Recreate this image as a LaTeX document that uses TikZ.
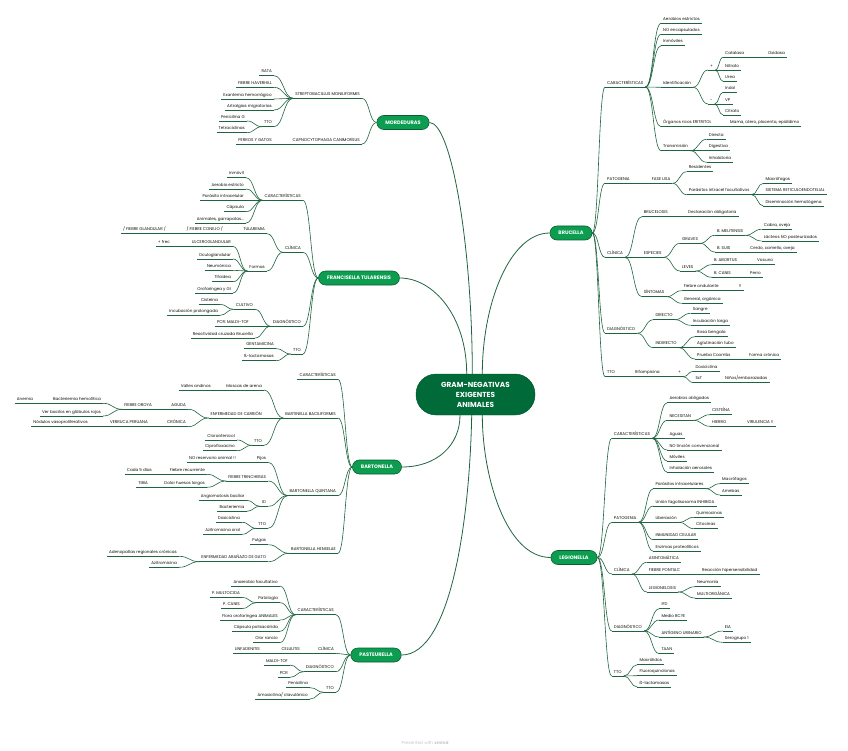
\documentclass[tikz,border=0pt]{standalone}
\usepackage{fontspec}
\setmainfont{Poppins}
\usetikzlibrary{calc}
\definecolor{lk}{HTML}{1F6440}
\definecolor{mg}{HTML}{0C9D50}
\definecolor{dg}{HTML}{0B5E33}
\definecolor{cg}{HTML}{006A38}
\definecolor{tx}{HTML}{0D0D0D}
\newcommand{\leaffont}{\fontsize{4.1}{5}\selectfont}
\newcommand{\brfont}{\fontsize{5}{6}\selectfont\bfseries}
\newcommand{\rootfont}{\fontsize{7.3}{10}\selectfont\bfseries}
\tikzset{
  ul/.style={draw=lk, line width=0.6pt},
  tp/.style={font=\leaffont, text=tx, inner xsep=2pt, inner ysep=1.5pt, text height=3.2pt, text depth=1.2pt,
    append after command={(\tikzlastnode.south west) edge[ul] (\tikzlastnode.south east)}},
  rt/.style={tp, anchor=south west},
  lt/.style={tp, anchor=south east},
  br/.style={draw=lk, line width=0.6pt, to path={let \p1=(\tikztostart), \p2=(\tikztotarget) in
    .. controls ({(\x1+\x2)/2},\y1) and ({(\x1+\x2)/2},\y2) .. (\tikztotarget)}},
  trunk/.style={draw=lk, line width=0.8pt},
  mn/.style={draw=dg, fill=mg, line width=0.6pt, rounded corners=7pt, text=white, font=\brfont,
    minimum height=14pt, inner xsep=8.5pt, inner ysep=0pt},
  root/.style={draw=cg!80!black, fill=cg, rounded corners=20pt, text=white, font=\rootfont,
    align=center, minimum width=119pt, minimum height=41pt}
}
\begin{document}
\begin{tikzpicture}[x=1pt,y=-1pt]
\useasboundingbox (0,0) rectangle (848,751);
\node[root] (root) at (475.5,394.5) {GRAM-NEGATIVAS\\EXIGENTES\\ANIMALES};
\node[mn] (mor) at (403,122.5) {MORDEDURAS};
\node[mn] (bru) at (571,233) {BRUCELLA};
\node[mn] (fra) at (359,278) {FRANCISELLA TULARENSIS};
\node[mn] (bar) at (377,467) {BARTONELLA};
\node[mn] (leg) at (574,557.5) {LEGIONELLA};
\node[mn] (pas) at (376,655) {PASTEURELLA};

\draw[trunk] (mor.east) .. controls +(22,0) and +(0,-127) .. ([xshift=-3.2pt]root.north);
\draw[trunk] (fra.east) .. controls +(34,0) and +(0,-57) .. ([xshift=-8.8pt]root.north);
\draw[trunk] ([xshift=6.8pt]root.north) .. controls +(0,-70) and +(-40,0) .. (bru.west);
\draw[trunk] ([xshift=-15.5pt]root.south) .. controls +(0,30) and +(35,0) .. (bar.east);
\draw[trunk] ([xshift=-3.8pt]root.south) .. controls +(-2,106) and +(49,0) .. (pas.east);
\draw[trunk] ([xshift=6.8pt]root.south) .. controls +(0,60) and +(-45,0) .. (leg.west);

% brucella
\node[rt] (b1) at (605,87) {CARACTERÍSTICAS};
\node[rt] (b11) at (661,23.3) {Aerobios estrictos};
\node[rt] (b12) at (661,34.3) {NO encapsulados};
\node[rt] (b13) at (661,45.7) {Inmóviles};
\node[rt] (b14) at (661,87.3) {Identificación};
\node[rt] (b141) at (708,70) {+};
\node[rt] (b1411) at (723,57.3) {Catalasa};
\node[rt] (b14111) at (766,57.3) {Oxidasa};
\node[rt] (b1412) at (723,70) {Nitrato};
\node[rt] (b1413) at (723,81.3) {Urea};
\node[rt] (b142) at (708,104) {-};
\node[rt] (b1421) at (723,92.3) {Indol};
\node[rt] (b1422) at (723,104) {VP};
\node[rt] (b1423) at (723,115) {Citrato};
\node[rt] (b15) at (661,126.7) {Órganos ricos ERITRITOL};
\node[rt] (b151) at (728,126.7) {Mama, útero, placenta, epidídimo};
\node[rt] (b16) at (661,150.7) {Transmisión};
\node[rt] (b161) at (706.7,139.3) {Directa};
\node[rt] (b162) at (706.7,150.7) {Digestiva};
\node[rt] (b163) at (706.7,162.3) {Inhalatoria};
\node[rt] (b2) at (605,183.3) {PATOGENIA};
\node[rt] (b21) at (649.7,183.3) {FASE LISA};
\node[rt] (b211) at (686.7,171.7) {Residentes};
\node[rt] (b212) at (686.7,194.7) {Parásitos intracel facultativos};
\node[rt] (b2121) at (763.3,183.3) {Macrófagos};
\node[rt] (b2122) at (763.3,194.7) {SISTEMA RETICULOENDOTELIAL};
\node[rt] (b2123) at (763.3,206) {Diseminación hematógena};
\node[rt] (b3) at (605,257.3) {CLÍNICA};
\node[rt] (b31) at (641.7,216.7) {BRUCELOSIS};
\node[rt] (b311) at (686,216.7) {Declaración obligatoria};
\node[rt] (b32) at (641.7,257.3) {ESPECIES};
\node[rt] (b321) at (680,243.3) {GRAVES};
\node[rt] (b3211) at (715,235.3) {B. MELITENSIS};
\node[rt] (b32111) at (761.7,229.3) {Cabra, oveja};
\node[rt] (b32112) at (761.7,241) {Lácteos NO pasteurizados};
\node[rt] (b3212) at (715,252) {B. SUIS};
\node[rt] (b32121) at (748,252) {Cerdo, camello, oveja};
\node[rt] (b322) at (680,271) {LEVES};
\node[rt] (b3221) at (712,264.7) {B. ABORTUS};
\node[rt] (b32211) at (755,264.7) {Vacuno};
\node[rt] (b3222) at (712,277.3) {B. CANIS};
\node[rt] (b32221) at (748,277.3) {Perro};
\node[rt] (b33) at (641.7,296.7) {SÍNTOMAS};
\node[rt] (b331) at (681.7,290.7) {Fiebre ondulante};
\node[rt] (b3311) at (736.7,290.7) {!!};
\node[rt] (b332) at (681.7,303.3) {General, orgánica};
\node[rt] (b4) at (605,333.3) {DIAGNÓSTICO};
\node[rt] (b41) at (653.3,319.7) {DIRECTO};
\node[rt] (b411) at (690.7,313.3) {Sangre};
\node[rt] (b412) at (690.7,325.3) {Incubación larga};
\node[rt] (b42) at (653.3,347.7) {INDIRECTO};
\node[rt] (b421) at (695,336.7) {Rosa bengala};
\node[rt] (b422) at (695,347.7) {Aglutinación tubo};
\node[rt] (b423) at (695,359) {Prueba Coombs};
\node[rt] (b4231) at (747,359) {Forma crónica};
\node[rt] (b5) at (605,376.7) {TTO};
\node[rt] (b51) at (633,376.7) {Rifampicina};
\node[rt] (b511) at (676,376.7) {+};
\node[rt] (b5111) at (693.3,371.3) {Doxiciclina};
\node[rt] (b5112) at (693.3,382.7) {SxT};
\node[rt] (b51121) at (723,382.7) {Niños/embarazadas};

% legionella
\node[rt] (l1) at (611.7,438.3) {CARACTERÍSTICAS};
\node[rt] (l11) at (667.3,402.7) {Aerobios obligados};
\node[rt] (l12) at (667.3,420.3) {NECESITAN};
\node[rt] (l121) at (710,414.7) {CISTEÍNA};
\node[rt] (l122) at (710,426.3) {HIERRO};
\node[rt] (l1221) at (745,426.3) {VIRULENCIA !!};
\node[rt] (l13) at (667.3,438.3) {Aguas};
\node[rt] (l14) at (667.3,450) {NO tinción convencional};
\node[rt] (l15) at (667.3,461) {Móviles};
\node[rt] (l16) at (667.3,472.3) {Inhalación aerosoles};
\node[rt] (l2) at (611.7,522.3) {PATOGENIA};
\node[rt] (l21) at (653.3,488.7) {Parásitos intracelulares};
\node[rt] (l211) at (720,483.7) {Macrófagos};
\node[rt] (l212) at (720,495) {Amebas};
\node[rt] (l22) at (653.3,506) {Unión fagolisosoma INHIBIDA};
\node[rt] (l23) at (653.3,522.3) {Liberación};
\node[rt] (l231) at (694,517.3) {Quimiocinas};
\node[rt] (l232) at (694,528.7) {Citocinas};
\node[rt] (l24) at (653.3,539.7) {INMUNIDAD CELULAR};
\node[rt] (l25) at (653.3,551.3) {Enzimas proteolíticos};
\node[rt] (l3) at (611.7,574) {CLÍNICA};
\node[rt] (l31) at (646.7,562.3) {ASINTOMÁTICA};
\node[rt] (l32) at (646.7,574) {FIEBRE PONTIAC};
\node[rt] (l321) at (700,574) {Reacción hipersensibilidad};
\node[rt] (l33) at (646.7,592) {LEGIONELOSIS};
\node[rt] (l331) at (695,586.7) {Neumonía};
\node[rt] (l332) at (695,598) {MULTIORGÁNICA};
\node[rt] (l4) at (611.7,631) {DIAGNÓSTICO};
\node[rt] (l41) at (659.3,608.7) {IFD};
\node[rt] (l42) at (659.3,620) {Medio BCYE};
\node[rt] (l43) at (659.3,637) {ANTÍGENO URINARIO};
\node[rt] (l431) at (722.7,631) {EIA};
\node[rt] (l432) at (722.7,642.3) {Serogrupo 1};
\node[rt] (l44) at (659.3,653.7) {TAAN};
\node[rt] (l5) at (611.7,676) {TTO};
\node[rt] (l51) at (637.3,664.7) {Macrólidos};
\node[rt] (l52) at (637.3,675.7) {Fluoroquinolonas};
\node[rt] (l53) at (637.3,687) {ß-lactamasas};

% mordeduras
\node[lt] (m1) at (362,98.3) {STREPTOBACILLUS MONILIFORMIS};
\node[lt] (m11) at (274,75.7) {RATA};
\node[lt] (m12) at (274,87.3) {FIEBRE HAVERHILL};
\node[lt] (m13) at (274,99) {Exantema hemorrágico};
\node[lt] (m14) at (274,110) {Artralgias migratorias};
\node[lt] (m15) at (274,126.7) {TTO};
\node[lt] (m151) at (247,121) {Penicilina G};
\node[lt] (m152) at (247,132.7) {Tetraciclinas};
\node[lt] (m2) at (362,144) {CAPNOCYTOPHAGA CANIMORSUS};
\node[lt] (m21) at (274,144) {PERROS Y GATOS};

% francisella
\node[lt] (f1) at (303,200.3) {CARACTERÍSTICAS};
\node[lt] (f11) at (246,177.7) {Inmóvil};
\node[lt] (f12) at (246,189) {Aerobio estricto};
\node[lt] (f13) at (246,200.3) {Parásito intracelular};
\node[lt] (f14) at (246,211.7) {Cápsula};
\node[lt] (f15) at (246,223) {Animales, garrapatas...};
\node[lt] (f2) at (303,252.3) {CLÍNICA};
\node[lt] (f21) at (267,233.7) {TULAREMIA};
\node[lt] (f211) at (225,233.7) {/ FIEBRE CONEJO /};
\node[lt] (f2111) at (168,233.7) {/ FIEBRE GLANDULAR /};
\node[lt] (f22) at (267,271) {Formas};
\node[lt] (f221) at (233,246.3) {ULCEROGLANDULAR};
\node[lt] (f2211) at (172,246.3) {+ frec};
\node[lt] (f222) at (233,259) {Oculoglandular};
\node[lt] (f223) at (233,270.3) {Neumónica};
\node[lt] (f224) at (233,281.7) {Tifoidea};
\node[lt] (f225) at (233,293) {Orofaríngea y GI};
\node[lt] (f3) at (303,326.3) {DIAGNÓSTICO};
\node[lt] (f31) at (255,309.3) {CULTIVO};
\node[lt] (f311) at (220,304.3) {Cisteína};
\node[lt] (f312) at (220,315.3) {Incubación prolongada};
\node[lt] (f32) at (251,326.3) {PCR: MALDI-TOF};
\node[lt] (f33) at (255,338) {Reactividad cruzada Brucella};
\node[lt] (f4) at (303,354) {TTO};
\node[lt] (f41) at (276,348.7) {GENTAMICINA};
\node[lt] (f42) at (276,360.7) {ß-lactamasas};

% bartonella
\node[lt] (t1) at (338,379.3) {CARACTERÍSTICAS};
\node[lt] (t2) at (338,418) {BARTINELLA BACILIFORMIS};
\node[lt] (t21) at (264,390) {Moscas de arena};
\node[lt] (t211) at (213,390) {Valles andinos};
\node[lt] (t22) at (264,418) {ENFERMEDAD DE CARRIÓN};
\node[lt] (t221) at (188,409.3) {AGUDA};
\node[lt] (t2211) at (154,409.3) {FIEBRE OROYA};
\node[lt] (t22111) at (103,403.3) {Bacteriemia hemolítica};
\node[lt] (t221111) at (35,403.3) {Anemia};
\node[lt] (t22112) at (103,416) {Ver bacilos en glóbulos rojos};
\node[lt] (t222) at (188,426.7) {CRÓNICA};
\node[lt] (t2221) at (150,426.7) {VERRUCA PERUANA};
\node[lt] (t22211) at (90,426.7) {Nódulos vasoproliferativos};
\node[lt] (t23) at (264,445.3) {TTO};
\node[lt] (t231) at (237,440) {Cloranfenicol};
\node[lt] (t232) at (237,450.7) {Ciprofloxacino};
\node[lt] (t3) at (338,495.7) {BARTONELLA QUINTANA};
\node[lt] (t31) at (268.3,462.3) {Pijos};
\node[lt] (t311) at (238,462.3) {NO reservorio animal !!};
\node[lt] (t32) at (268.3,481) {FIEBRE TRINCHERAS};
\node[lt] (t321) at (207,474.3) {Fiebre recurrente};
\node[lt] (t3211) at (154,474.3) {Cada 5 días};
\node[lt] (t322) at (207,487.3) {Dolor huesos largos};
\node[lt] (t3221) at (150,487.3) {TIBIA};
\node[lt] (t33) at (268.3,506.3) {ID};
\node[lt] (t331) at (246.7,500.3) {Angiomatosis bacilar};
\node[lt] (t332) at (246.7,511.3) {Bacteriemia};
\node[lt] (t34) at (268.3,528.3) {TTO};
\node[lt] (t341) at (242,522.3) {Doxiciclina};
\node[lt] (t342) at (242,534.3) {Azitromicina oral};
\node[lt] (t4) at (338,553.3) {BARTONELLA HENSELAE};
\node[lt] (t41) at (268.3,544.7) {Pulgas};
\node[lt] (t42) at (268.3,561.7) {ENFERMEDAD ARAÑAZO DE GATO};
\node[lt] (t421) at (179,556.3) {Adenopatías regionales crónicas};
\node[lt] (t422) at (179,567.3) {Azitromicina};

% pasteurella
\node[lt] (p1) at (336,614.7) {CARACTERÍSTICAS};
\node[lt] (p11) at (280,586) {Anaerobio facultativo};
\node[lt] (p12) at (280,602.7) {Patología};
\node[lt] (p121) at (242,597.3) {P. MULTOCIDA};
\node[lt] (p122) at (242,608.7) {P. CANIS};
\node[lt] (p13) at (280,620) {Flora orofaríngea ANIMALES};
\node[lt] (p14) at (280,631.3) {Cápsula polisacárida};
\node[lt] (p15) at (280,642.7) {Olor rancio};
\node[lt] (p2) at (336,653.3) {CLÍNICA};
\node[lt] (p21) at (302,653.3) {CELULITIS};
\node[lt] (p211) at (262,653.3) {LINFADENITIS};
\node[lt] (p3) at (336,671.7) {DIAGNÓSTICO};
\node[lt] (p31) at (290,665) {MALDI-TOF};
\node[lt] (p32) at (290,677.3) {PCR};
\node[lt] (p4) at (336,692.3) {TTO};
\node[lt] (p41) at (310,687.7) {Penicilina};
\node[lt] (p42) at (310,699) {Amoxicilina/ clavulánico};

\node[font=\fontsize{4.3}{5}\selectfont, text=gray!45] (wm) at (425,743) {Presented with \textbf{xmind}};

\foreach \b in {b1,b2,b3,b4,b5}
  \draw[br] (bru.east) to (\b.south west);
\foreach \b in {l1,l2,l3,l4,l5}
  \draw[br] (leg.east) to (\b.south west);
\foreach \b in {m1,m2}
  \draw[br] (mor.west) to (\b.south east);
\foreach \b in {f1,f2,f3,f4}
  \draw[br] (fra.west) to (\b.south east);
\foreach \b in {t1,t2,t3,t4}
  \draw[br] (bar.west) to (\b.south east);
\foreach \b in {p1,p2,p3,p4}
  \draw[br] (pas.west) to (\b.south east);

\foreach \a/\b in {b1/b11,b1/b12,b1/b13,b1/b14,b1/b15,b1/b16,b14/b141,b14/b142,
    b141/b1411,b141/b1412,b141/b1413,b1411/b14111,b142/b1421,b142/b1422,b142/b1423,
    b15/b151,b16/b161,b16/b162,b16/b163,b2/b21,b21/b211,b21/b212,b212/b2121,b212/b2122,
    b212/b2123,b3/b31,b3/b32,b3/b33,b31/b311,b32/b321,b32/b322,b321/b3211,b321/b3212,
    b3211/b32111,b3211/b32112,b3212/b32121,b322/b3221,b322/b3222,b3221/b32211,
    b3222/b32221,b33/b331,b33/b332,b331/b3311,b4/b41,b4/b42,b41/b411,b41/b412,
    b42/b421,b42/b422,b42/b423,b423/b4231,b5/b51,b51/b511,b511/b5111,b511/b5112,
    b5112/b51121,
    l1/l11,l1/l12,l1/l13,l1/l14,l1/l15,l1/l16,l12/l121,l12/l122,l122/l1221,
    l2/l21,l2/l22,l2/l23,l2/l24,l2/l25,l21/l211,l21/l212,l23/l231,l23/l232,
    l3/l31,l3/l32,l3/l33,l32/l321,l33/l331,l33/l332,l4/l41,l4/l42,l4/l43,l4/l44,
    l43/l431,l43/l432,l5/l51,l5/l52,l5/l53}
  \draw[br] (\a.south east) to (\b.south west);

\foreach \a/\b in {m1/m11,m1/m12,m1/m13,m1/m14,m1/m15,m15/m151,m15/m152,m2/m21,
    f1/f11,f1/f12,f1/f13,f1/f14,f1/f15,f2/f21,f2/f22,f21/f211,f211/f2111,
    f22/f221,f22/f222,f22/f223,f22/f224,f22/f225,f221/f2211,f3/f31,f3/f32,f3/f33,
    f31/f311,f31/f312,f4/f41,f4/f42,
    t2/t21,t2/t22,t2/t23,t21/t211,t22/t221,t22/t222,t221/t2211,t2211/t22111,
    t2211/t22112,t22111/t221111,t222/t2221,t2221/t22211,t23/t231,t23/t232,
    t3/t31,t3/t32,t3/t33,t3/t34,t31/t311,t32/t321,t32/t322,t321/t3211,t322/t3221,
    t33/t331,t33/t332,t34/t341,t34/t342,t4/t41,t4/t42,t42/t421,t42/t422,
    p1/p11,p1/p12,p1/p13,p1/p14,p1/p15,p12/p121,p12/p122,p2/p21,p21/p211,
    p3/p31,p3/p32,p4/p41,p4/p42}
  \draw[br] (\a.south west) to (\b.south east);
\end{tikzpicture}
\end{document}
